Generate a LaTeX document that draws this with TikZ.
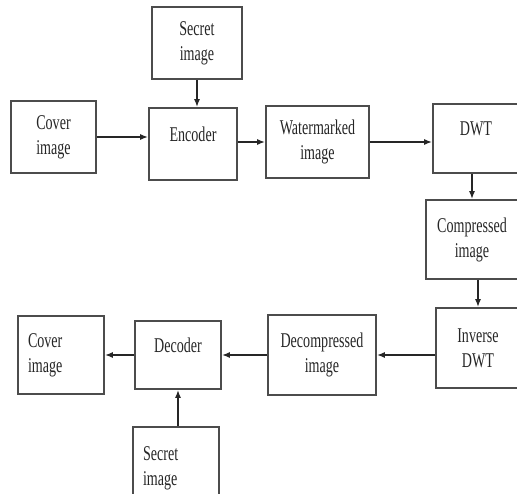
\documentclass[tikz,border=0pt]{standalone}
\usepackage{fontspec}
\setmainfont{Liberation Serif}[FakeStretch=0.67]
\usetikzlibrary{arrows.meta}
\begin{document}
\begin{tikzpicture}
[x=1pt, y=-1pt, >={Latex[length=8pt, width=6pt]}, line width=1.6pt,
 nodes={draw=black!70, text=black!85, align=center, inner sep=0pt, font=\fontsize{21}{25}\selectfont},
 onerow/.style={text depth=19pt},
 leftrow/.style={align=left, text width=#1, inner xsep=10pt},
 link/.style={->, draw=black!85, line width=1.6pt}]
\useasboundingbox (0,0) rectangle (517,494);

% top row
\node (SecretA) at (197,43) [minimum width=90, minimum height=72] {Secret\\image};
\node (CoverA) at (53.5,137) [minimum width=85, minimum height=72] {Cover\\image};
\node (Encoder) at (193,144) [minimum width=88, minimum height=72, onerow] {Encoder};
\node (Marked) at (317.5,142) [minimum width=103, minimum height=72] {Watermarked\\image};
\node (DWT) at (476,138.5) [minimum width=86, minimum height=69, onerow] {DWT};

% right column
\node (Compressed) at (472,239.5) [minimum width=92, minimum height=79] {Compressed\\image};
\node (Inverse) at (478,348) [minimum width=84, minimum height=80] {Inverse\\DWT};

% bottom row
\node (Decompressed) at (322,355) [minimum width=108, minimum height=80] {Decompressed\\image};
\node (Decoder) at (178,355) [minimum width=86, minimum height=68, onerow] {Decoder};
\node (CoverB) at (61,355) [minimum width=86, minimum height=78, leftrow=66] {Cover\\image};
\node (SecretB) at (176,468) [minimum width=86, minimum height=82, leftrow=66] {Secret\\image};

\draw[link] (SecretA.south) -- (SecretA.south |- Encoder.north);
\draw[link] (CoverA.east) -- (CoverA.east -| Encoder.west);
\draw[link] (Marked.west -| Encoder.east) -- (Marked.west);
\draw[link] (Marked.east) -- (Marked.east -| DWT.west);
\draw[link] (Compressed.north |- DWT.south) -- (Compressed.north);
\draw[link] (Inverse.north |- Compressed.south) -- (Inverse.north);
\draw[link] (Decompressed.east -| Inverse.west) -- (Decompressed.east);
\draw[link] (Decompressed.west) -- (Decompressed.west -| Decoder.east);
\draw[link] (Decoder.west) -- (Decoder.west -| CoverB.east);
\draw[link] (Decoder.south |- SecretB.north) -- (Decoder.south);
\end{tikzpicture}
\end{document}
